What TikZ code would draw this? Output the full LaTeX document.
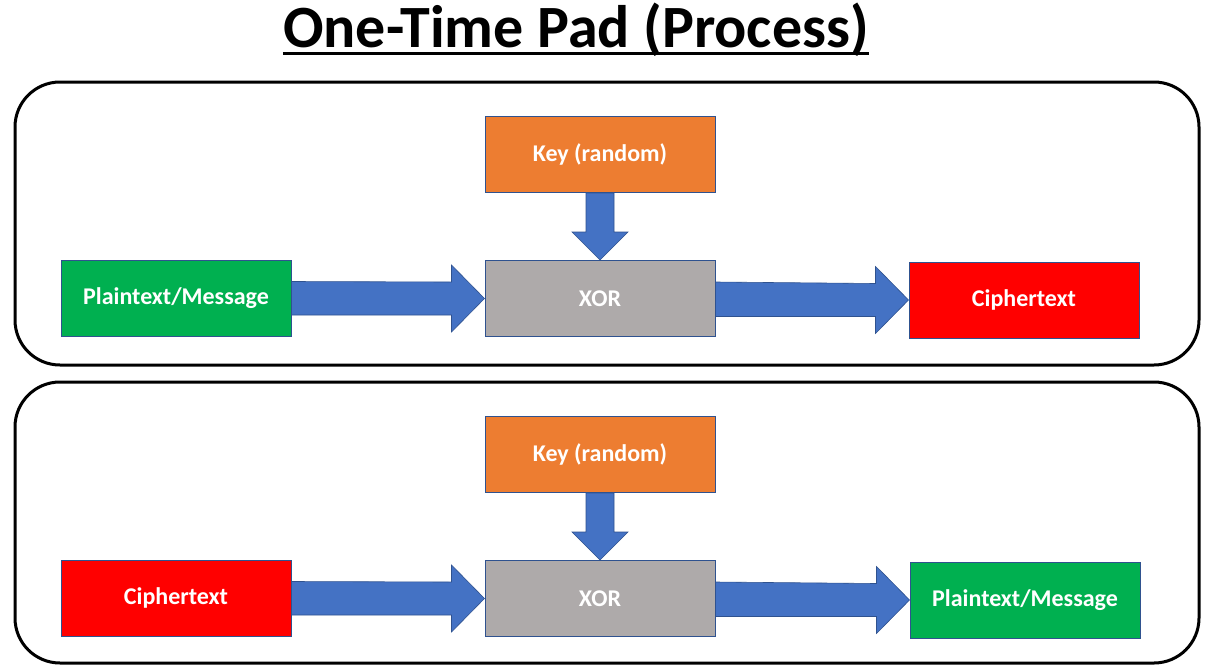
\documentclass[tikz,border=0pt]{standalone}
\usepackage{fontspec}
\setmainfont{Carlito}
\usetikzlibrary{calc}
\definecolor{bgreen}{HTML}{00B050}
\definecolor{bred}{HTML}{FF0000}
\definecolor{borange}{HTML}{ED7D31}
\definecolor{bgray}{HTML}{AEAAAA}
\definecolor{barrow}{HTML}{4472C4}
\definecolor{bline}{HTML}{2F528F}
\tikzset{
  x=1pt, y=-1pt,
  box/.style={draw=bline, line width=1pt, minimum width=230pt, minimum height=76pt,
    inner sep=0pt, text=white, font=\bfseries\fontsize{24}{28}\selectfont},
  panel/.style={draw=black, line width=3pt, rounded corners=45pt},
  bigarrow/.style={fill=barrow, draw=bline, line width=0.6pt}
}
\newcommand{\harrow}[2]{%
  \path[bigarrow] ($(#1.east)!0!(#2.west)+(0,-16.5)$) -- ($(#2.west)+(-33,-16.5)$) -- ($(#2.west)+(-33,-33.5)$) -- (#2.west)
   -- ($(#2.west)+(-33,33.5)$) -- ($(#2.west)+(-33,16.5)$) -- ($(#1.east|-#2.west)+(0,16.5)$) -- ($(#1.east|-#2.west)+(0,-16.5)$) -- cycle;}
\newcommand{\varrow}[2]{%
  \path[bigarrow] ($(#1.south)+(-14,0)$) -- ($(#2.north)+(-14,-28)$) -- ($(#2.north)+(-28,-28)$) -- (#2.north)
   -- ($(#2.north)+(28,-28)$) -- ($(#2.north)+(14,-28)$) -- ($(#1.south)+(14,0)$) -- cycle;}
\begin{document}
\begin{tikzpicture}
\useasboundingbox (0,0) rectangle (1210,667);
\fill[white] (0,0) rectangle (1210,667);
% title
\node[anchor=base, font=\bfseries\fontsize{60}{70}\selectfont, inner sep=0pt] (title) at (576,47) {One-Time Pad (Process)};
\draw[line width=3pt] (title.west|-0,53) -- (title.east|-0,53);
% panels
\draw[panel] (15,82) rectangle (1199,365) node[coordinate] (p1) {};
\draw[panel] (15,382) rectangle (1199,663) node[coordinate] (p2) {};
% top process
\node[box, fill=borange] (k1) at (600,154.5) {Key (random)};
\node[box, fill=bgray] (x1) at (600,298.5) {XOR};
\node[box, fill=bgreen] (m1) at (176,298) {Plaintext/Message};
\node[box, fill=bred] (c1) at (1024,300) {Ciphertext};
\varrow{k1}{x1}
\harrow{m1}{x1}
\harrow{x1}{c1}
% bottom process
\node[box, fill=borange] (k2) at (600,454.5) {Key (random)};
\node[box, fill=bgray] (x2) at (600,598.5) {XOR};
\node[box, fill=bred] (c2) at (176,598) {Ciphertext};
\node[box, fill=bgreen] (m2) at (1025,600) {Plaintext/Message};
\varrow{k2}{x2}
\harrow{c2}{x2}
\harrow{x2}{m2}
\end{tikzpicture}
\end{document}
